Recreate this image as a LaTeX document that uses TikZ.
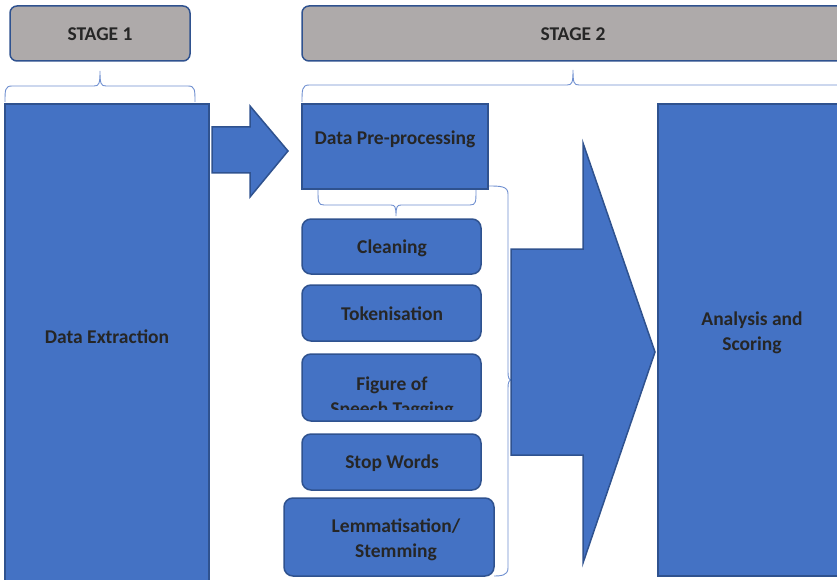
\documentclass[tikz,border=0pt]{standalone}
\usepackage{fontspec}
\setmainfont{Carlito}
\definecolor{boxblue}{HTML}{4472C4}
\definecolor{edgeblue}{HTML}{2F528F}
\definecolor{stagegray}{HTML}{AEAAAA}
\definecolor{txt}{HTML}{262626}
\definecolor{bracec}{HTML}{6F8FD0}
\begin{document}
\begin{tikzpicture}[x=1pt,y=-1pt,
  stagebox/.style={draw=edgeblue,line width=1.5pt,fill=stagegray,rounded corners=7pt},
  bluebox/.style={draw=edgeblue,line width=1.5pt,fill=boxblue},
  roundbox/.style={draw=edgeblue,line width=1.5pt,fill=boxblue,rounded corners=9pt},
  lbl/.style={font=\bfseries\fontsize{19.5}{25}\selectfont,text=txt,align=center},
  bracel/.style={draw=bracec,line width=0.9pt},
  arrowshape/.style={draw=edgeblue,line width=1.5pt,fill=boxblue,line join=miter}]
\useasboundingbox (0,0) rectangle (837,580);
\begin{scope}
\clip (0,0) rectangle (837,580);
% stage headers
\draw[stagebox] (10,6) rectangle (190,61);
\node[lbl] (s1) at (100,34) {STAGE 1};
\draw[stagebox] (302,6) rectangle (850,61);
\node[lbl] (s2) at (573,34) {STAGE 2};
% braces
\draw[bracel] (5,102) .. controls (5,90) and (5,86) .. (12,86) -- (94,86) .. controls (99,86) and (100,84) .. (100,71)
  (100,71) .. controls (100,84) and (101,86) .. (106,86) -- (188,86) .. controls (195,86) and (195,90) .. (195,102);
\draw[bracel] (302,102) .. controls (302,90) and (302,85) .. (309,85) -- (567,85) .. controls (572,85) and (573,83) .. (573,70)
  (573,70) .. controls (573,83) and (574,85) .. (579,85) -- (850,85);
\draw[bracel] (318,190) .. controls (318,202) and (318,205) .. (324,205) -- (391,205) .. controls (395,205) and (396,207) .. (396,216)
  (396,216) .. controls (396,207) and (397,205) .. (401,205) -- (470,205) .. controls (476,205) and (476,202) .. (476,190);
\draw[bracel] (488,186) .. controls (500,186) and (508,186) .. (508,194) -- (508,372) .. controls (508,378) and (509,380) .. (512,380)
  (512,380) .. controls (509,380) and (508,382) .. (508,388) -- (508,568) .. controls (508,576) and (500,576) .. (494,576);
% stage 1 box
\draw[bluebox] (5,104) rectangle (209,590);
\node[lbl] (de) at (107,337) {Data Extraction};
% arrow 1
\draw[arrowshape] (212,127) -- (250,127) -- (250,106) -- (288,151) -- (250,197) -- (250,173) -- (212,173) -- cycle;
% pre-processing
\draw[bluebox] (302,104) rectangle (488,189);
\node[lbl] (dp) at (395,139) {Data Pre-processing};
% steps
\draw[roundbox] (302,219) rectangle (481,274);
\node[lbl] (cl) at (392,248) {Cleaning};
\draw[roundbox] (302,285) rectangle (481,341);
\node[lbl] (tk) at (392,314) {Tokenisation};
\draw[roundbox] (302,354) rectangle (481,421);
\begin{scope}
\clip (302,354) rectangle (481,409);
\node[lbl] (fs) at (392,398) {Figure of\\Speech Tagging};
\end{scope}
\draw[roundbox] (302,434) rectangle (481,490);
\node[lbl] (sw) at (392,463) {Stop Words};
\draw[roundbox] (284,498) rectangle (494,576);
\node[lbl] (lm) at (396,540) {Lemmatisation/\\Stemming};
% big arrow
\draw[arrowshape] (511,249) -- (583,249) -- (583,143) -- (655,352) -- (583,563) -- (583,455) -- (511,455) -- cycle;
% analysis
\draw[bluebox] (658,104) rectangle (850,576);
\node[lbl] (an) at (752,333) {Analysis and\\Scoring};
\end{scope}
\end{tikzpicture}
\end{document}
